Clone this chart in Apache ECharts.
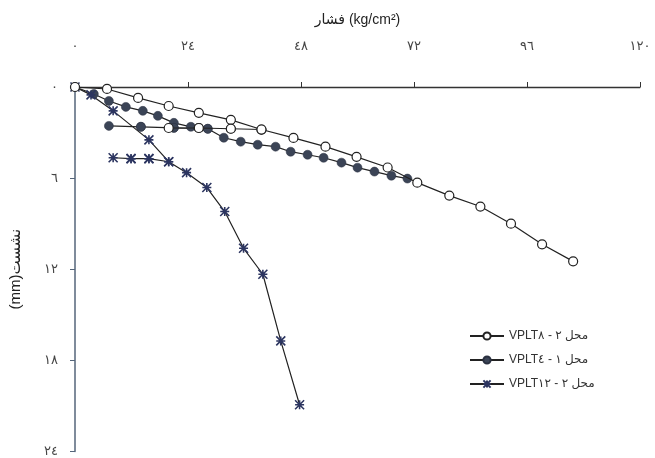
<!DOCTYPE html>
<html>
<head>
    <meta charset="utf-8">
    <title>ECharts</title>
    <script src="https://cdn.jsdelivr.net/npm/echarts@6/dist/echarts.min.js"></script>
</head>
<body style="margin:0;background:#fff;">
    <div id="main" style="width: 655px;height:458px;"></div>
    <script type="text/javascript">
        // tick labels (Arabic-Indic digits)
        var xTickLabels = ['٠', '٢٤', '٤٨', '٧٢', '٩٦', '١٢٠'];
        var yTickLabels = ['٠', '٦', '١٢', '١٨', '٢٤'];

        // legend names, written in visual order with LRM marks
        var seriesNames = [
            'VPLT٨\u200E - ٢\u200E محل',
            'VPLT٤\u200E - ١\u200E محل',
            'VPLT١٢\u200E - ٢\u200E محل'
        ];

        // VPLT8 (open circles): pressure kg/cm2, settlement mm
        var p8 = [0, 6.8, 13.4, 19.9, 26.3, 33.1, 39.6, 33.1, 26.3, 19.9, 26.3, 33.1, 39.6,
                  46.4, 53.2, 59.8, 66.4, 72.7, 79.5, 86.1, 92.6, 99.2, 105.8];
        var s8 = [0, 0.13, 0.72, 1.25, 1.7, 2.16, 2.8, 2.75, 2.7, 2.7, 2.7, 2.75, 2.8,
                  3.35, 3.93, 4.6, 5.3, 6.3, 7.15, 7.87, 9.0, 10.36, 11.48];

        // VPLT4 (filled circles)
        var p4 = [0, 4.0, 7.2, 10.8, 14.4, 17.6, 21.0, 24.6, 28.2, 21.0, 14.0, 7.2, 14.0, 21.0, 28.2,
                  31.6, 35.2, 38.8, 42.6, 45.8, 49.4, 52.8, 56.6, 60.0, 63.6, 67.2, 70.6];
        var s4 = [0, 0.46, 0.92, 1.31, 1.57, 1.9, 2.36, 2.62, 2.75, 2.69, 2.62, 2.56, 2.62, 2.69, 2.75,
                  3.34, 3.6, 3.8, 3.93, 4.26, 4.46, 4.66, 4.98, 5.31, 5.57, 5.84, 6.03];

        // VPLT12 (asterisks)
        var p12 = [0, 3.4, 8.1, 15.7, 19.9, 15.7, 11.9, 8.1, 11.9, 15.7, 19.9,
                   23.7, 28.0, 31.8, 35.8, 39.9, 43.7, 47.7];
        var s12 = [0, 0.52, 1.57, 3.48, 4.92, 4.72, 4.72, 4.66, 4.72, 4.72, 4.92,
                   5.64, 6.62, 8.2, 10.62, 12.33, 16.72, 20.92];

        function pairs(xs, ys) {
            var out = [];
            for (var i = 0; i < xs.length; i++) {
                out.push([xs[i], ys[i]]);
            }
            return out;
        }

        var starPath = 'path://M0,0L10,10M10,0L0,10M5,0L5,10M0,5L10,5';

        var myChart = echarts.init(document.getElementById('main'));

        var option = {
            animation: false,
            backgroundColor: '#fff',
            textStyle: { fontFamily: 'Arial, DejaVu Sans, sans-serif' },
            grid: { left: 74, top: 87, right: 15, bottom: 5 },
            legend: {
                orient: 'vertical',
                left: 464,
                top: 325,
                itemWidth: 34,
                itemHeight: 9,
                itemGap: 12,
                textStyle: { fontSize: 12, color: '#333' },
                data: seriesNames
            },
            xAxis: {
                type: 'value',
                position: 'top',
                min: 0,
                max: 120,
                interval: 24,
                name: 'فشار (kg/cm²)',
                nameLocation: 'middle',
                nameGap: 60,
                nameTextStyle: { fontSize: 14, color: '#222' },
                axisLine: { lineStyle: { color: '#333', width: 1.3 } },
                axisTick: { length: 5, lineStyle: { color: '#333' } },
                axisLabel: {
                    margin: 34,
                    fontSize: 13,
                    color: '#444',
                    formatter: function (v) { return xTickLabels[Math.round(v / 24)]; }
                },
                splitLine: { show: false }
            },
            yAxis: {
                type: 'value',
                inverse: true,
                min: 0,
                max: 24,
                interval: 6,
                name: '(mm)نشست',
                nameLocation: 'middle',
                nameRotate: 90,
                nameGap: 52,
                nameTextStyle: { fontSize: 15, color: '#222' },
                axisLine: { show: true, lineStyle: { color: '#55657a', width: 1.5 } },
                axisTick: { show: true, length: 5, lineStyle: { color: '#55657a' } },
                axisLabel: {
                    margin: 17,
                    fontSize: 13,
                    color: '#444',
                    formatter: function (v) { return yTickLabels[Math.round(v / 6)]; }
                },
                splitLine: { show: false }
            },
            series: [{
                name: seriesNames[0],
                type: 'line',
                data: pairs(p8, s8),
                symbol: 'circle',
                symbolSize: 9,
                lineStyle: { color: '#222', width: 1.2 },
                itemStyle: { color: '#fff', borderColor: '#222', borderWidth: 1.2 },
                z: 3
            }, {
                name: seriesNames[1],
                type: 'line',
                data: pairs(p4, s4),
                symbol: 'circle',
                symbolSize: 9,
                lineStyle: { color: '#222', width: 1.2 },
                itemStyle: { color: '#3b4456', borderColor: '#2a3040', borderWidth: 0.5 },
                z: 2
            }, {
                name: seriesNames[2],
                type: 'line',
                data: pairs(p12, s12),
                symbol: starPath,
                symbolSize: 9,
                lineStyle: { color: '#222', width: 1.2 },
                itemStyle: { color: '#2c3560', borderColor: '#2c3560', borderWidth: 1.6 },
                z: 2
            }]
        };

        myChart.setOption(option);
    </script>
</body>
</html>
